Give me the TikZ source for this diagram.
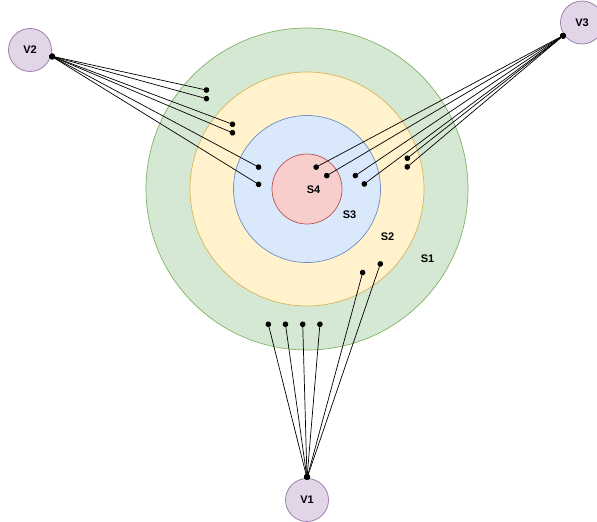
\documentclass[tikz,border=0pt]{standalone}
\usepackage{fontspec}
\setmainfont{Liberation Sans}
\usepackage{xcolor}
\usepackage{tikz}
\usetikzlibrary{arrows}
\definecolor{sonefill}{HTML}{D5E8D4}
\definecolor{sonedraw}{HTML}{82B366}
\definecolor{stwofill}{HTML}{FFF2CC}
\definecolor{stwodraw}{HTML}{D6B656}
\definecolor{sthreefill}{HTML}{DAE8FC}
\definecolor{sthreedraw}{HTML}{6C8EBF}
\definecolor{sfourfill}{HTML}{F8CECC}
\definecolor{sfourdraw}{HTML}{B85450}
\definecolor{vfill}{HTML}{E1D5E7}
\definecolor{vdraw}{HTML}{9673A6}
\tikzset{
  ring/.style={circle,inner sep=0pt,line width=0.7pt},
  vnode/.style={circle,draw=vdraw,fill=vfill,line width=0.7pt,minimum size=43pt,inner sep=0pt,font=\fontsize{11}{13}\selectfont\bfseries},
  lbl/.style={inner sep=0pt,font=\fontsize{11}{13}\selectfont\bfseries},
  wire/.style={*-*,line width=0.7pt,black,shorten <=-1.5pt,shorten >=-1.5pt},
}
\begin{document}
\begin{tikzpicture}[x=1pt,y=-1pt]
    \useasboundingbox (0,0) rectangle (597,522);
    % rings
    \draw[] (307,189) node[ring,draw=sonedraw,fill=sonefill,minimum size=322pt] (S1) {};
    \draw[] (307,189) node[ring,draw=stwodraw,fill=stwofill,minimum size=234pt] (S2) {};
    \draw[] (307,189) node[ring,draw=sthreedraw,fill=sthreefill,minimum size=147pt] (S3) {};
    \draw[] (307,189) node[ring,draw=sfourdraw,fill=sfourfill,minimum size=70pt] (S4) {};
    \draw[] (313.5,189.5) node[lbl] (S4lbl) {S4};
    \draw[] (349.5,215) node[lbl] (S3lbl) {S3};
    \draw[] (387.5,236.5) node[lbl] (S2lbl) {S2};
    \draw[] (427.5,258.5) node[lbl] (S1lbl) {S1};
    % sources
    \draw[] (307,500) node[vnode] (V1) {V1};
    \draw[] (30,50) node[vnode] (V2) {V2};
    \draw[] (582,22.5) node[vnode] (V3) {V3};
    % probes
    \foreach \i/\x/\y in {1/268/323,2/285.3/323,3/302.7/323,4/320/323,5/363/271.3,6/380.7/262.7}
      \coordinate (a\i) at (\x,\y);
    \foreach \i/\x/\y in {1/207.7/90.3,2/207.7/99,3/233.7/124.7,4/233.7/133.3,5/259.7/167.7,6/259.7/185}
      \coordinate (b\i) at (\x,\y);
    \foreach \i/\x/\y in {1/315/167.7,2/325.7/176.3,3/354.3/176.3,4/363.3/184.7,5/406.3/159,6/406.3/167.7}
      \coordinate (c\i) at (\x,\y);
    \foreach \i in {1,...,6} {
      \draw[wire] (V1.north) -- (a\i);
      \draw[wire] (V2.-16) -- (b\i);
      \draw[wire] (V3.-145) -- (c\i);
    }
  \end{tikzpicture}
\end{document}
